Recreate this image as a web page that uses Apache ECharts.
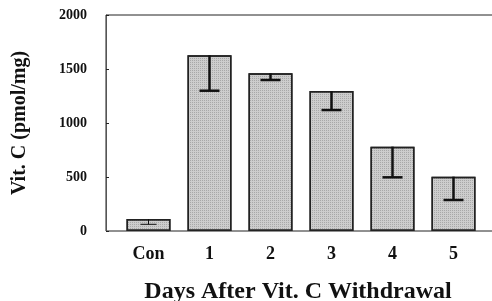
<!DOCTYPE html>
<html>
<head>
<meta charset="utf-8">
<script src="https://cdn.jsdelivr.net/npm/echarts@6/dist/echarts.min.js"></script>
<style>
  html, body { margin: 0; padding: 0; background: #fff; }
  #chart { width: 492px; height: 301px; }
</style>
</head>
<body>
<div id="chart"></div>
<script>
// data
const categories = ['Con', '1', '2', '3', '4', '5'];
const means = [111, 1627, 1460, 1296, 781, 503];
const errors = [49, 328, 62, 176, 284, 216];
const yTicks = [0, 500, 1000, 1500, 2000];

const font = 'Liberation Serif';

const chart = echarts.init(document.getElementById('chart'));

chart.setOption({
  animation: false,
  grid: [
    // bars
    { left: 118, width: 366, top: 15, bottom: 70, outerBoundsMode: 'none' },
    // frame with the y axis
    { left: 106, right: -5, top: 15, bottom: 70, outerBoundsMode: 'none', show: true, borderColor: '#222', borderWidth: 1 }
  ],
  xAxis: [
    {
      gridIndex: 0,
      type: 'category',
      data: categories,
      axisLine: { show: false },
      axisTick: { show: false },
      axisLabel: { fontFamily: font, fontWeight: 'bold', fontSize: 18, color: '#111', margin: 14 },
      name: 'Days After Vit. C Withdrawal',
      nameLocation: 'middle',
      nameGap: 49,
      nameTextStyle: { fontFamily: font, fontWeight: 'bold', fontSize: 24, color: '#111', padding: [0, 6, 0, 0] }
    },
    {
      gridIndex: 1,
      type: 'value',
      show: false
    }
  ],
  yAxis: [
    {
      gridIndex: 0,
      type: 'value',
      min: 0,
      max: 2000,
      show: false
    },
    {
      gridIndex: 1,
      type: 'value',
      min: yTicks[0],
      max: yTicks[yTicks.length - 1],
      interval: 500,
      splitLine: { show: false },
      axisLine: { show: true, lineStyle: { color: '#555' } },
      axisTick: { show: true, inside: true, length: 3, lineStyle: { color: '#222' } },
      axisLabel: {
        fontFamily: font, fontWeight: 'bold', fontSize: 14, color: '#111', margin: 19, padding: [5, 0, 0, 0],
        formatter: v => String(v)
      },
      name: 'Vit. C (pmol/mg)',
      nameLocation: 'middle',
      nameGap: 76,
      nameTextStyle: { fontFamily: font, fontWeight: 'bold', fontSize: 20, color: '#111' }
    }
  ],
  series: [
    {
      type: 'bar',
      xAxisIndex: 0,
      yAxisIndex: 0,
      data: means,
      barWidth: 44,
      itemStyle: {
        color: '#cdcdcd',
        borderColor: '#222',
        borderWidth: 1.5,
        decal: {
          symbol: 'rect',
          symbolSize: 1,
          dashArrayX: [1, 1],
          dashArrayY: [1, 1],
          color: 'rgba(0,0,0,0.18)'
        }
      },
      z: 2
    },
    {
      type: 'custom',
      xAxisIndex: 0,
      yAxisIndex: 0,
      data: means.map((m, i) => [i, m, m - errors[i]]),
      renderItem: function (params, api) {
        const top = api.coord([api.value(0), api.value(1)]);
        const low = api.coord([api.value(0), api.value(2)]);
        const first = params.dataIndex === 0;
        const half = first ? 8 : 10;
        const lw = first ? 1 : 2.5;
        return {
          type: 'group',
          children: [
            {
              type: 'line',
              shape: { x1: top[0], y1: top[1], x2: low[0], y2: low[1] },
              style: { stroke: '#111', lineWidth: lw }
            },
            {
              type: 'line',
              shape: { x1: low[0] - half, y1: low[1], x2: low[0] + half, y2: low[1] },
              style: { stroke: '#111', lineWidth: lw }
            }
          ]
        };
      },
      z: 3
    }
  ]
});
</script>
</body>
</html>
